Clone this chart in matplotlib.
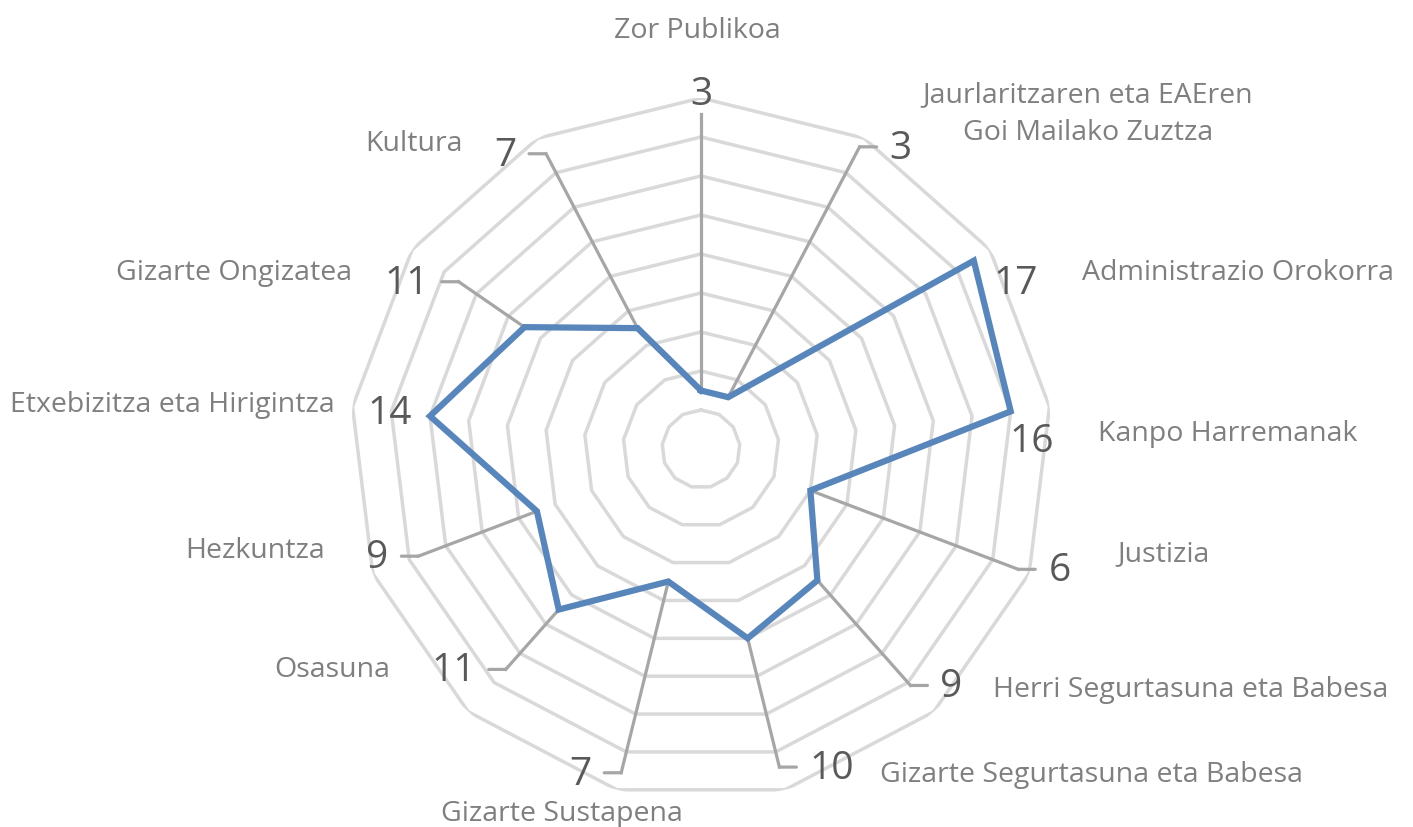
import numpy as np
import matplotlib
matplotlib.use('Agg')
import matplotlib.pyplot as plt

plt.rcParams['font.family'] = ['Open Sans', 'DejaVu Sans']

# categories clockwise from the top, with their values
categories = ['Zor Publikoa', 'Jaurlaritzaren eta EAEren\nGoi Mailako Zuztza',
              'Administrazio Orokorra', 'Kanpo Harremanak', 'Justizia',
              'Herri Segurtasuna eta Babesa', 'Gizarte Segurtasuna eta Babesa',
              'Gizarte Sustapena', 'Osasuna', 'Hezkuntza',
              'Etxebizitza eta Hirigintza', 'Gizarte Ongizatea', 'Kultura']
values = [3, 3, 17, 16, 6, 9, 10, 7, 11, 9, 14, 11, 7]
rings = [2, 4, 6, 8, 10, 12, 14, 16, 18]

# where the leader lines of the value labels bend (None = label sits by the point)
leader_r = [17.2, 17.5, None, None, 17.4, 16.2, 16.8, 17.1, 15.1, 15.5, None, 15.1, 17.1]
# offset (px) of value labels that have no bend, from the point
free_off = {2: (42, -23), 3: (21, -31), 10: (-40, 2)}

# category label placement in pixels: x, y, ha
cat_pos = [(697, 31, 'center'), (1088, 114, 'center'), (1082, 273, 'left'),
           (1098, 434, 'left'), (1117, 554, 'left'), (993, 690, 'left'),
           (880, 775, 'left'), (562, 814, 'center'), (390, 670, 'right'),
           (325, 551, 'right'), (335, 405, 'right'), (352, 273, 'right'),
           (463, 144, 'right')]

W, H = 1413, 827
cx, cy, R = 701, 449, 351

n = len(categories)
theta = np.arange(n) * 2 * np.pi / n
closed = np.append(theta, theta[0])

fig = plt.figure(figsize=(W / 100, H / 100), dpi=100)
ax = fig.add_axes([(cx - R) / W, (H - cy - R) / H, 2 * R / W, 2 * R / H], projection='polar')
ax.set_theta_zero_location('N')
ax.set_theta_direction(-1)
ax.set_ylim(0, 18)
ax.axis('off')

grid_c = '#d9d9d9'
lead_c = '#a6a6a6'
val_c = '#595959'
cat_c = '#7f7f7f'

for r in rings:
    ax.plot(closed, [r] * (n + 1), color=grid_c, lw=2.5, zorder=1)

# leader lines
px = 0.72  # points per pixel
for i in range(n):
    if leader_r[i] is None:
        continue
    ax.plot([theta[i], theta[i]], [values[i], leader_r[i]], color=lead_c, lw=2.3, zorder=2)
    if i == 0:
        ax.annotate(str(values[i]), xy=(theta[i], leader_r[i]), xytext=(0, 0),
                    textcoords='offset points', ha='center', va='bottom',
                    fontsize=28, color=val_c)
        continue
    side = 1 if np.sin(theta[i]) > 0 else -1
    ax.annotate('', xy=(theta[i], leader_r[i]), xytext=(side * 17 * px, 0),
                textcoords='offset points',
                arrowprops=dict(arrowstyle='-', color=lead_c, lw=2.3, shrinkA=0, shrinkB=0))
    ax.annotate(str(values[i]), xy=(theta[i], leader_r[i]),
                xytext=(side * 30 * px, -2 * px), textcoords='offset points',
                ha='left' if side > 0 else 'right', va='center',
                fontsize=28, color=val_c)

for i, (dx, dy) in free_off.items():
    ax.annotate(str(values[i]), xy=(theta[i], values[i]), xytext=(dx * px, dy * px),
                textcoords='offset points', ha='center', va='center',
                fontsize=28, color=val_c)

ax.plot(closed, values + values[:1], color='#5886bb', lw=4.5,
        solid_joinstyle='miter', zorder=3)

for name, (x, y, ha) in zip(categories, cat_pos):
    fig.text(x / W, 1 - y / H, name, ha=ha, va='center', fontsize=20.5,
             color=cat_c, linespacing=1.5, multialignment='center')

fig.savefig('out.png', dpi=100)
